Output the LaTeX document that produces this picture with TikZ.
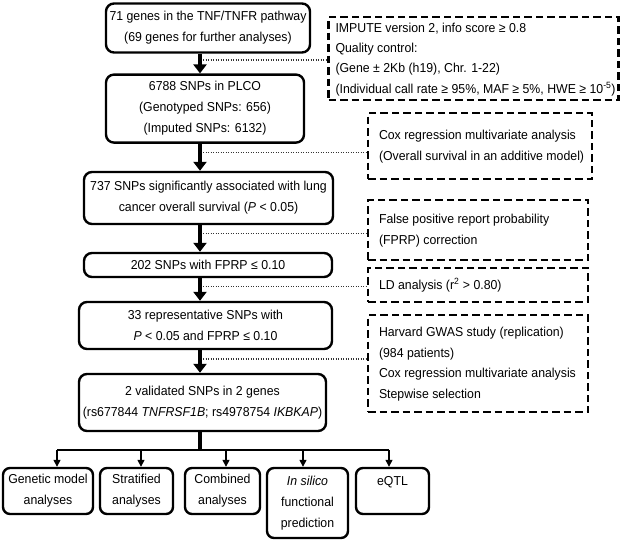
\documentclass[tikz,border=0pt]{standalone}
\usepackage{fontspec}
\setmainfont{Liberation Sans}[FakeStretch=0.95]
\usetikzlibrary{arrows.meta}
\newcommand\sidetxt[2]{\makebox[#1][l]{\begin{tabular}{@{}l@{}}#2\end{tabular}}}
\begin{document}
\begin{tikzpicture}[x=1pt,y=-1pt,
  every node/.style={font=\fontsize{12.95}{21}\selectfont, inner sep=0pt},
  solidbox/.style={draw, line width=2.4pt, rounded corners=8pt, align=center},
  dashbox/.style={draw, line width=2.6pt, dash pattern=on 7.5pt off 4pt},
  bigarrow/.style={line width=4.2pt, -{Triangle[width=13pt,length=9pt]}},
  smallarrow/.style={line width=1.3pt, -{Triangle[width=7pt,length=7pt]}},
  dotline/.style={line width=1.1pt, dash pattern=on 1.4pt off 1.1pt, black!80}
]
\useasboundingbox (0,0) rectangle (620,541);

% main column
\node[solidbox, minimum width=204pt, minimum height=49pt] (n1) at (208,28)
  {71 genes in the TNF/TNFR pathway\\(69 genes for further analyses)};
\node[solidbox, minimum width=198pt, minimum height=68pt] (n2) at (205,108.6)
  {6788 SNPs in PLCO\\(Genotyped SNPs: 656)\\(Imputed SNPs: 6132)};
\node[solidbox, minimum width=249pt, minimum height=52pt] (n3) at (208.5,198)
  {737 SNPs significantly associated with lung\\cancer overall survival (\textit{P} {<} 0.05)};
\node[solidbox, minimum width=248pt, minimum height=24pt] (n4) at (208,265)
  {202 SNPs with FPRP ≤ 0.10};
\node[solidbox, minimum width=253pt, minimum height=47pt] (n5) at (205.5,325.5)
  {33 representative SNPs with\\\textit{P} {<} 0.05 and FPRP ≤ 0.10};
\node[solidbox, minimum width=247pt, minimum height=57pt] (n6) at (202.5,402.5)
  {2 validated SNPs in 2 genes\\(rs677844 \textit{TNFRSF1B}; rs4978754 \textit{IKBKAP})};

% side dashed boxes
\node[dashbox, minimum width=290pt, minimum height=83pt, inner xsep=7pt,
      font=\fontsize{12.95}{20.3}\selectfont] (dA) at (473.5,58.5)
  {\sidetxt{276pt}{IMPUTE version 2, info score ≥ 0.8\\Quality control:\\(Gene ± 2Kb (h19), Chr. 1-22)\\(Individual call rate ≥ 95\%, MAF ≥ 5\%, HWE ≥ 10\textsuperscript{-5})}};
\node[dashbox, minimum width=224pt, minimum height=66pt, inner xsep=11pt] (dB) at (480,146)
  {\sidetxt{202pt}{Cox regression multivariate analysis\\(Overall survival in an additive model)}};
\node[dashbox, minimum width=220pt, minimum height=60pt, inner xsep=11pt] (dC) at (478,230)
  {\sidetxt{198pt}{False positive report probability\\(FPRP) correction}};
\node[dashbox, minimum width=220pt, minimum height=34pt, inner xsep=11pt] (dD) at (478,285)
  {\sidetxt{198pt}{LD analysis (r\textsuperscript{2} {>} 0.80)}};
\node[dashbox, minimum width=220pt, minimum height=97pt, inner xsep=11pt,
      font=\fontsize{12.95}{20.7}\selectfont] (dE) at (478,363.5)
  {\sidetxt{198pt}{Harvard GWAS study (replication)\\(984 patients)\\Cox regression multivariate analysis\\Stepwise selection}};

% bottom boxes
\node[solidbox, rounded corners=7pt, minimum width=90pt, minimum height=46pt] (b1) at (48,491)
  {Genetic model\\analyses};
\node[solidbox, rounded corners=7pt, minimum width=73pt, minimum height=46pt] (b2) at (136.5,491)
  {Stratified\\analyses};
\node[solidbox, rounded corners=7pt, minimum width=75pt, minimum height=46pt] (b3) at (222.5,491)
  {Combined\\analyses};
\node[solidbox, rounded corners=7pt, minimum width=81pt, minimum height=70pt] (b4) at (307.5,503)
  {\textit{In silico}\\functional\\prediction};
\node[solidbox, rounded corners=7pt, minimum width=73pt, minimum height=46pt] (b5) at (392.5,491)
  {eQTL\\\mbox{}};

% main arrows
\coordinate (ax) at (200,0);
\draw[bigarrow] (n1.south -| ax) -- (n2.north -| ax);
\draw[bigarrow] (n2.south -| ax) -- (n3.north -| ax);
\draw[bigarrow] (n3.south -| ax) -- (n4.north -| ax);
\draw[bigarrow] (n4.south -| ax) -- (n5.north -| ax);
\draw[bigarrow] (n5.south -| ax) -- (n6.north -| ax);

% dotted connectors
\coordinate (pA) at (203,60);
\coordinate (pB) at (203,152.5);
\coordinate (pC) at (203,233.5);
\coordinate (pD) at (203,286.5);
\coordinate (pE) at (203,359);
\draw[dotline] (pA) -- (pA -| dA.west);
\draw[dotline] (pB) -- (pB -| dB.west);
\draw[dotline] (pC) -- (pC -| dC.west);
\draw[dotline] (pD) -- (pD -| dD.west);
\draw[dotline] (pE) -- (pE -| dE.west);

% distribution bus
\coordinate (bus) at (200,450);
\coordinate (t1) at (57,450);
\coordinate (t2) at (141,450);
\coordinate (t3) at (226,450);
\coordinate (t4) at (303,450);
\coordinate (t5) at (389,450);
\draw[line width=4.4pt] (n6.south -| ax) -- (bus);
\draw[line width=1.3pt] (t1) -- (t5);
\draw[smallarrow] (t1) -- (t1 |- b1.north);
\draw[smallarrow] (t2) -- (t2 |- b2.north);
\draw[smallarrow] (t3) -- (t3 |- b3.north);
\draw[smallarrow] (t4) -- (t4 |- b4.north);
\draw[smallarrow] (t5) -- (t5 |- b5.north);
\end{tikzpicture}
\end{document}
